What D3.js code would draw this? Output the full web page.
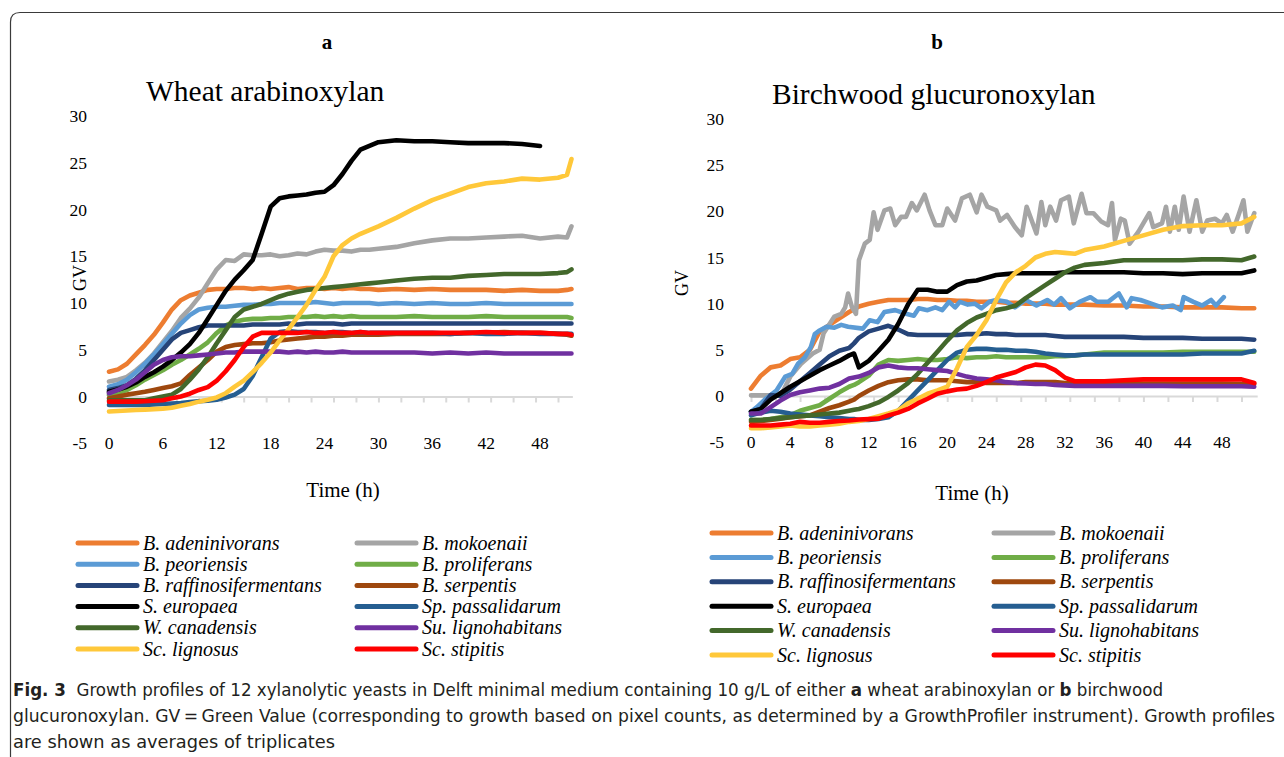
<!DOCTYPE html>
<html lang="en">
<head>
<meta charset="utf-8">
<title>Growth profiles of xylanolytic yeasts</title>
<script src="https://cdn.jsdelivr.net/npm/d3@7"></script>
<style>
  * { margin: 0; padding: 0; }
  body { background: #fff; }
  svg { display: block; }
</style>
</head>
<body>
<svg id="chart" width="1284" height="757"></svg>
<script>

// ---- data ----
const species = ["B. adeninivorans", "B. mokoenaii", "B. peoriensis", "B. proliferans",
  "B. raffinosifermentans", "B. serpentis", "S. europaea", "Sp. passalidarum",
  "W. canadensis", "Su. lignohabitans", "Sc. lignosus", "Sc. stipitis"];
const speciesColors = ["#ED7D31", "#A5A5A5", "#5B9BD5", "#70AD47", "#264478", "#9E480E",
  "#000000", "#255E91", "#43682B", "#7030A0", "#FFC83A", "#FF0000"];

// panel a, wheat arabinoxylan (hours)
const timeA = [0,1,2,3,4,5,6,7,8,9,10,11,12,13,14,15,16,17,18,19,20,21,22,23,24,25,26,27,28,29,30,
  32,34,36,38,40,42,44,46,48,50,51,51.5];
const aAdeninivorans = [2.65,2.9,3.5,4.5,5.5,6.6,7.9,9.3,10.3,10.8,11.1,11.4,11.5,11.5,11.6,11.6,11.5,11.6,11.5,11.6,
  11.7,11.5,11.6,11.6,11.5,11.6,11.5,11.6,11.5,11.5,11.4,11.5,11.4,11.5,11.4,11.4,11.4,11.3,11.4,11.3,11.3,11.4,11.5];
const aMokoenaii = [1.6,1.8,2.1,2.8,3.6,4.6,5.8,7.0,8.4,9.4,10.6,12.1,13.6,14.6,14.5,15.2,15.1,15.1,15.2,15.0,
  15.1,15.3,15.2,15.5,15.7,15.6,15.6,15.5,15.7,15.7,15.8,16.0,16.4,16.7,16.9,16.9,17.0,17.1,17.2,16.9,17.1,17.0,18.2];
const aPeoriensis = [1.05,1.3,1.8,2.6,3.5,4.5,5.6,6.7,7.8,8.7,9.3,9.5,9.6,9.6,9.7,9.8,9.8,9.9,9.9,10.0,
  10.0,10.0,10.0,10.1,10.0,9.9,10.0,10.0,10.0,10.0,9.9,10.0,9.9,10.0,9.9,9.9,10.0,9.9,9.9,9.9,9.9,9.9,9.9];
const aProliferans = [0.15,0.4,0.7,1.2,1.8,2.3,2.8,3.4,3.9,4.5,5.1,5.8,6.8,7.6,8.0,8.2,8.3,8.3,8.4,8.4,
  8.5,8.5,8.5,8.6,8.5,8.6,8.5,8.6,8.5,8.5,8.5,8.5,8.6,8.5,8.5,8.5,8.6,8.5,8.5,8.5,8.5,8.5,8.4];
const aRaffinosifermentans = [0.7,0.9,1.2,1.9,2.8,3.9,5.0,6.1,6.8,7.1,7.4,7.6,7.6,7.6,7.6,7.6,7.7,7.7,7.7,7.7,
  7.8,7.7,7.8,7.8,7.8,7.8,7.7,7.8,7.8,7.8,7.8,7.8,7.8,7.8,7.8,7.8,7.8,7.8,7.8,7.8,7.8,7.8,7.8];
const aSerpentis = [-0.2,0,0.2,0.35,0.5,0.7,0.9,1.1,1.4,2.3,3.1,3.9,4.8,5.3,5.5,5.6,5.7,5.7,5.8,6.0,
  6.1,6.2,6.3,6.4,6.4,6.5,6.5,6.6,6.6,6.6,6.6,6.7,6.7,6.7,6.7,6.8,6.8,6.9,6.8,6.8,6.7,6.6,6.5];
const aEuropaea = [0.5,0.75,1.05,1.5,2.1,2.6,3.2,3.9,4.7,5.6,6.8,8.3,9.8,11.3,12.5,13.5,14.6,17.4,20.3,21.2,
  21.4,21.5,21.6,21.8,21.9,22.6,23.8,25.2,26.4,26.8,27.2,27.4,27.3,27.3,27.2,27.1,27.1,27.1,27.0,26.8,null,null,null];
const aPassalidarum = [-0.9,-0.9,-0.9,-0.9,-0.9,-0.85,-0.8,-0.75,-0.7,-0.6,-0.5,-0.45,-0.35,-0.1,0.2,0.8,2.2,4.2,6.2,6.9,
  7.0,6.9,6.9,6.9,6.8,6.9,6.9,6.8,6.9,6.8,6.8,6.8,6.8,6.8,6.7,6.8,6.7,6.7,6.8,6.7,6.7,6.7,6.7];
const aCanadensis = [-0.4,-0.4,-0.4,-0.4,-0.4,-0.2,0,0.2,0.8,1.8,2.9,4.2,5.7,7.1,8.5,9.3,9.6,9.9,10.3,10.7,
  11.0,11.2,11.4,11.5,11.6,11.7,11.8,11.9,12.0,12.1,12.2,12.4,12.6,12.7,12.7,12.9,13.0,13.1,13.1,13.1,13.2,13.3,13.6];
const aLignohabitans = [0.35,0.7,1.2,1.8,2.6,3.4,3.9,4.2,4.3,4.3,4.4,4.5,4.6,4.7,4.7,4.8,4.8,4.8,4.8,4.8,
  4.7,4.8,4.7,4.8,4.7,4.7,4.8,4.7,4.7,4.7,4.7,4.7,4.7,4.6,4.7,4.6,4.7,4.6,4.6,4.6,4.6,4.6,4.6];
const aLignosus = [-1.6,-1.55,-1.5,-1.45,-1.4,-1.35,-1.3,-1.2,-1.0,-0.8,-0.55,-0.35,-0.1,0.35,1.05,1.7,2.6,3.6,4.7,6.0,
  7.2,8.5,9.8,11.4,12.8,15.0,16.2,16.9,17.4,17.8,18.2,19.1,20.1,21.0,21.7,22.4,22.8,23.0,23.3,23.2,23.4,23.7,25.4];
const aStipitis = [-0.55,-0.55,-0.55,-0.55,-0.5,-0.45,-0.4,-0.2,0,0.3,0.7,1.0,1.7,2.7,3.9,5.3,6.4,6.8,6.8,6.8,
  6.8,6.8,6.9,6.8,6.8,6.9,6.8,6.8,6.9,6.8,6.8,6.8,6.8,6.8,6.8,6.8,6.9,6.8,6.8,6.8,6.7,6.7,6.6];

// panel b, birchwood glucuronoxylan (hours)
const timeB = [0,1,2,3,4,5,6,7,8,9,10,10.5,11,12,13,14,15,16,17,18,19,20,21,22,23,24,25,26,27,28,29,30,
  31,32,33,34,36,38,40,42,44,46,48,50,51.3];
const bAdeninivorans = [0.8,2.2,3.1,3.3,4.0,4.2,5.0,7.0,7.7,8.4,9.1,9.4,9.7,10.0,10.2,10.4,10.4,10.4,10.5,10.5,10.4,10.4,
  10.3,10.3,10.2,10.2,10.2,10.1,10.1,10.0,10.0,10.0,9.9,9.9,9.9,9.9,9.8,9.8,9.7,9.7,9.6,9.6,9.6,9.5,9.5];
const bMokoenaiiTime = [0,2.9,3.3,4,5.1,6.3,7,7.4,8.5,9.2,9.6,9.9,10.3,10.7,11,11.6,12.1,12.5,12.9,13.6,14.2,14.7,
  15.3,15.8,16.4,16.9,17.7,18.2,18.8,19.5,20,20.8,21.5,22.3,23,23.5,24.1,25,25.4,26.1,26.9,27.6,28.1,29.1,29.6,
  30,30.5,31.1,31.6,32.4,32.9,33.7,34.2,34.9,35.7,36.4,36.8,37.1,37.7,38.1,38.6,39.5,40.6,41,41.9,42.3,42.7,
  43.2,43.6,44.1,44.7,45.4,46,46.5,47.3,48,48.5,49.1,49.7,50.2,50.6,51.3];
const bMokoenaii = [0.07,0.07,0.6,2.1,3.5,4.6,5.0,6.8,8.6,8.9,9.6,11.1,9.6,8.9,14.7,16.5,16.9,19.9,18.0,20.1,20.3,18.5,
  19.4,19.4,20.9,20.1,21.8,20.1,18.5,18.5,20.3,19.0,21.4,21.8,19.9,21.8,20.5,20.1,19.0,19.6,18.3,17.4,20.5,17.6,21.0,
  18.5,20.5,19.0,21.2,21.6,18.7,21.9,19.8,19.8,18.9,18.5,20.9,16.9,19.2,19.0,16.5,17.8,19.8,18.3,18.7,20.5,17.8,
  20.5,18.0,21.6,17.8,21.2,17.8,19.0,19.2,18.7,19.6,17.8,19.6,21.2,17.8,19.8];
const bPeoriensisTime = [0,0.6,1.5,2.6,3.5,4.2,4.8,5.5,6.1,6.5,7,7.7,8.5,9.2,9.9,11.4,12.1,12.9,13.6,14.7,15.8,16.6,
  17.1,18,18.8,19.5,20.2,20.8,21.3,22.1,22.8,23.5,24.3,25,26.1,26.9,28,29.1,30.2,30.9,31.6,32.5,33.5,34.6,35.3,
  36.4,37.5,38.3,38.8,39.7,40.8,41.9,43,43.8,44.1,45.1,46,46.9,47.4,48.2];
const bPeoriensis = [-1.7,-1.2,-0.3,0.6,2.1,2.4,3.5,4.2,5.3,6.7,7.1,7.5,7.4,7.7,7.5,7.3,8.2,8.0,9.1,9.3,8.9,8.7,
  9.5,9.3,9.6,9.3,10.2,9.6,10.2,9.9,10.0,9.5,10.2,10.4,10.2,9.6,10.4,9.8,10.4,9.9,10.6,9.5,10.2,10.7,10.2,
  10.2,11.1,9.6,10.6,10.4,10.0,9.6,9.8,9.3,10.7,10.2,9.8,10.4,9.8,10.7];
const bProliferans = [-2.6,-2.6,-2.5,-2.3,-2.1,-1.6,-1.3,-1.0,-0.3,0.4,1.0,1.2,1.5,2.2,3.4,3.9,3.8,3.9,4.0,3.9,3.9,4.0,
  4.2,4.1,4.2,4.2,4.3,4.2,4.2,4.2,4.2,4.2,4.3,4.3,4.4,4.5,4.7,4.7,4.7,4.7,4.8,4.8,4.8,4.8,4.8];
const bRaffinosifermentans = [-1.7,-1.4,0.1,0.0,0.7,1.6,2.5,3.4,4.3,4.9,5.2,5.7,6.3,7.0,7.3,7.6,7.2,6.7,6.6,6.6,6.6,6.6,
  6.6,6.7,6.7,6.8,6.7,6.7,6.6,6.6,6.6,6.6,6.5,6.4,6.4,6.4,6.4,6.4,6.3,6.3,6.3,6.2,6.2,6.2,6.1];
const bSerpentis = [-2.8,-2.7,-2.6,-2.45,-2.3,-2.2,-2.1,-1.7,-1.3,-1.0,-0.6,-0.4,0.0,0.6,1.1,1.5,1.7,1.8,1.8,1.7,1.7,1.7,
  1.6,1.5,1.5,1.4,1.4,1.4,1.4,1.5,1.5,1.5,1.5,1.4,1.4,1.4,1.4,1.4,1.35,1.35,1.35,1.35,1.35,1.3,1.3];
const bEuropaea = [-1.7,-1.4,-0.4,0.3,1.0,1.6,2.2,2.8,3.3,3.8,4.4,4.6,3.1,3.8,4.9,6.1,7.8,9.9,11.5,11.5,11.3,11.3,
  12.0,12.4,12.5,12.8,13.1,13.2,13.3,13.3,13.3,13.3,13.3,13.4,13.4,13.4,13.4,13.4,13.3,13.3,13.2,13.3,13.3,13.3,13.6];
const bPassalidarum = [-2.1,-1.8,-1.6,-1.7,-1.9,-2.0,-2.1,-2.2,-2.3,-2.4,-2.5,-2.5,-2.6,-2.6,-2.5,-2.3,-1.6,-0.5,0.6,1.7,2.8,3.9,
  4.7,5.0,5.1,5.1,5.0,5.0,4.9,4.9,4.8,4.6,4.5,4.4,4.4,4.5,4.5,4.5,4.5,4.5,4.5,4.6,4.6,4.6,4.9];
const bCanadensis = [-2.6,-2.6,-2.5,-2.4,-2.3,-2.2,-2.1,-2.0,-1.9,-1.8,-1.6,-1.5,-1.4,-1.1,-0.7,-0.1,0.6,1.4,2.4,3.6,4.8,6.0,
  7.1,7.9,8.5,8.9,9.3,9.5,9.8,10.6,11.3,12.0,12.7,13.4,13.9,14.2,14.4,14.7,14.7,14.7,14.7,14.8,14.8,14.7,15.1];
const bLignohabitans = [-1.9,-1.9,-1.2,-0.5,0.1,0.4,0.6,0.8,0.9,1.3,1.9,2.0,2.1,2.5,3.1,3.3,3.1,3.0,3.0,2.9,2.8,2.7,
  2.4,2.1,1.9,1.8,1.7,1.5,1.4,1.35,1.3,1.3,1.2,1.15,1.1,1.1,1.1,1.1,1.1,1.1,1.05,1.05,1.05,1.05,1.0];
const bLignosus = [-3.5,-3.5,-3.4,-3.3,-3.2,-3.3,-3.3,-3.2,-3.1,-3.0,-2.8,-2.75,-2.7,-2.5,-2.2,-1.9,-1.55,-0.8,-0.3,0.25,0.6,1.0,
  3.0,5.3,6.6,8.2,10.4,12.3,13.4,14.1,15.0,15.4,15.6,15.5,15.4,15.8,16.2,16.8,17.4,18.0,18.4,18.5,18.5,18.7,19.4];
const bStipitis = [-3.2,-3.2,-3.2,-3.1,-3.0,-2.8,-2.9,-2.9,-2.8,-2.7,-2.65,-2.6,-2.55,-2.5,-2.45,-2.1,-1.8,-1.4,-0.8,-0.3,0.25,0.5,
  0.7,0.8,1.1,1.5,2.0,2.3,2.6,3.1,3.4,3.3,2.8,2.0,1.6,1.6,1.6,1.7,1.8,1.8,1.8,1.8,1.8,1.8,1.4];

const yTicks = [-5, 0, 5, 10, 15, 20, 25, 30];
const captionLines = [
  [["Fig. 3", true], ["  Growth profiles of 12 xylanolytic yeasts in Delft minimal medium containing 10 g/L of either ", false],
   ["a", true], [" wheat arabinoxylan or ", false], ["b", true], [" birchwood", false]],
  [["glucuronoxylan. GV\u2009=\u2009Green Value (corresponding to growth based on pixel counts, as determined by a GrowthProfiler instrument). Growth profiles", false]],
  [["are shown as averages of triplicates", false]]
];

// ---- drawing ----
const svg = d3.select("#chart");
const serif = "'Liberation Serif', 'Times New Roman', serif";

// frame round the figure
svg.append("path")
   .attr("d", "M1284,12.5 H20 Q10.5,12.5 10.5,22 V757")
   .attr("fill", "none")
   .attr("stroke", "#3a3a3a")
   .attr("stroke-width", 1.2);

function drawPanel(p) {
  const g = svg.append("g");
  const x = d3.scaleLinear().domain([0, 51.6]).range([p.x0, p.x0 + 51.6 * p.pxh]);
  const y = d3.scaleLinear().domain([0, 30]).range([p.yZero, p.y30]);

  g.append("text").attr("x", p.letterX).attr("y", 49)
   .attr("text-anchor", "middle").style("font-family", serif)
   .style("font-size", "21px").style("font-weight", "bold").text(p.letter);

  g.append("text").attr("x", p.titleX).attr("y", p.titleY)
   .style("font-family", serif).style("font-size", "29.5px").text(p.title);

  // zero line with small tick marks
  const zero = g.append("g").attr("transform", `translate(0,${y(0)})`)
    .call(d3.axisBottom(x).tickValues(d3.range(0, 51.6, 2.5)).tickSize(6).tickSizeOuter(0).tickFormat(""));
  zero.select(".domain").attr("stroke", "#d9d9d9").attr("stroke-width", 2);
  zero.selectAll(".tick line").attr("stroke", "#d9d9d9").attr("stroke-width", 2);

  // y labels
  g.selectAll(".ylab").data(yTicks).enter().append("text")
   .attr("x", p.yLabRight).attr("y", d => y(d) + 6)
   .attr("text-anchor", "end").style("font-family", serif).style("font-size", "17.5px")
   .text(d => d);

  // x labels, at the bottom of the value range
  g.selectAll(".xlab").data(d3.range(0, 49, p.xStep)).enter().append("text")
   .attr("x", d => x(d)).attr("y", y(-5) + 6)
   .attr("text-anchor", "middle").style("font-family", serif).style("font-size", "17.5px")
   .text(d => d);

  g.append("text").attr("transform", `translate(${p.gvX},${p.gvY}) rotate(-90)`)
   .attr("text-anchor", "middle").style("font-family", serif).style("font-size", "18px").text("GV");
  g.append("text").attr("x", p.timeX).attr("y", p.timeY)
   .attr("text-anchor", "middle").style("font-family", serif).style("font-size", "21px").text("Time (h)");

  const line = d3.line()
    .defined(d => d[1] != null)
    .x(d => x(d[0])).y(d => y(d[1]));

  p.series.forEach((s, i) => {
    const pts = s.t.map((t, j) => [t, s.v[j]]);
    g.append("path").datum(pts)
     .attr("d", line)
     .attr("fill", "none")
     .attr("stroke", speciesColors[i])
     .attr("stroke-width", 4.6)
     .attr("stroke-linejoin", "round")
     .attr("stroke-linecap", "round");
  });

  // legend, two columns, row by row
  const leg = g.append("g");
  species.forEach((name, i) => {
    const col = i % 2, row = Math.floor(i / 2);
    const lx = p.legX + col * p.legCol;
    const ly = p.legY + row * p.legRow;
    leg.append("line").attr("x1", lx).attr("x2", lx + 59).attr("y1", ly).attr("y2", ly)
       .attr("stroke", speciesColors[i]).attr("stroke-width", 5).attr("stroke-linecap", "round");
    leg.append("text").attr("x", lx + 65).attr("y", ly + 6.5)
       .style("font-family", serif).style("font-style", "italic").style("font-size", "20px")
       .text(name);
  });
}

const seriesA = [aAdeninivorans, aMokoenaii, aPeoriensis, aProliferans, aRaffinosifermentans, aSerpentis,
  aEuropaea, aPassalidarum, aCanadensis, aLignohabitans, aLignosus, aStipitis].map(v => ({t: timeA, v}));
const seriesB = [
  {t: timeB, v: bAdeninivorans}, {t: bMokoenaiiTime, v: bMokoenaii}, {t: bPeoriensisTime, v: bPeoriensis},
  {t: timeB, v: bProliferans}, {t: timeB, v: bRaffinosifermentans}, {t: timeB, v: bSerpentis},
  {t: timeB, v: bEuropaea}, {t: timeB, v: bPassalidarum}, {t: timeB, v: bCanadensis},
  {t: timeB, v: bLignohabitans}, {t: timeB, v: bLignosus}, {t: timeB, v: bStipitis}];

drawPanel({
  letter: "a", letterX: 327, title: "Wheat arabinoxylan", titleX: 146, titleY: 101,
  x0: 109, pxh: 8.98, yZero: 396.5, y30: 116, yLabRight: 87, xStep: 6,
  gvX: 86, gvY: 278, timeX: 343, timeY: 497,
  legX: 78, legY: 543, legRow: 21.2, legCol: 279,
  series: seriesA
});
drawPanel({
  letter: "b", letterX: 937, title: "Birchwood glucuronoxylan", titleX: 772, titleY: 104,
  x0: 751, pxh: 9.81, yZero: 396, y30: 119, yLabRight: 724, xStep: 4,
  gvX: 688, gvY: 283, timeX: 972, timeY: 500,
  legX: 712, legY: 533, legRow: 24.4, legCol: 282,
  series: seriesB
});

// caption
const cap = svg.append("g");
const capWidths = [1150, 1262, 322];
captionLines.forEach((parts, i) => {
  const t = cap.append("text").attr("x", 13).attr("y", 696 + i * 26)
    .attr("textLength", capWidths[i]).attr("lengthAdjust", "spacingAndGlyphs")
    .style("font-family", "'Liberation Sans Narrow', 'DejaVu Sans Condensed', 'Open Sans', sans-serif")
    .style("font-size", "17px").style("fill", "#231f20")
    .attr("xml:space", "preserve");
  parts.forEach(([str, bold]) => {
    t.append("tspan").style("font-weight", bold ? "bold" : "normal").text(str);
  });
});
</script>
</body>
</html>
